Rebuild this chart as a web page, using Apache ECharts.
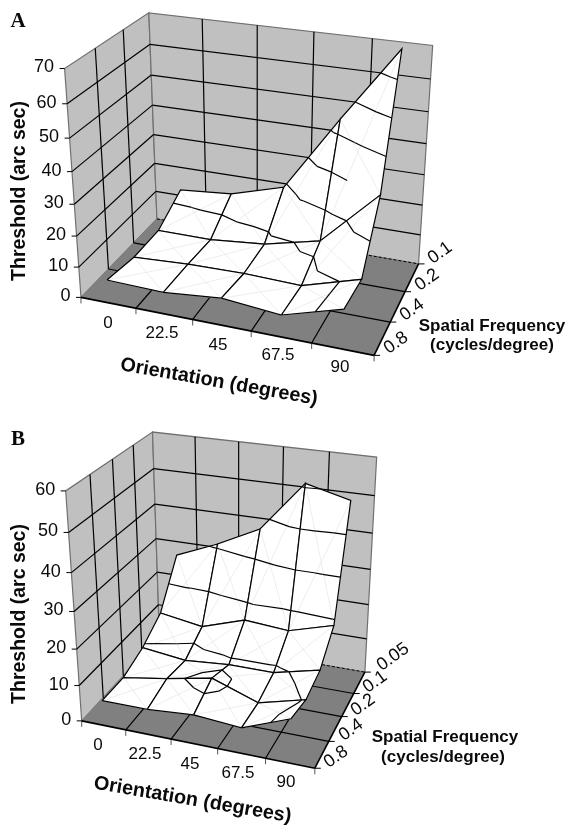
<!DOCTYPE html>
<html>
<head>
<meta charset="utf-8">
<style>html,body{margin:0;padding:0;background:#fff}#c{width:568px;height:825px}</style>
<script src="https://cdn.jsdelivr.net/npm/echarts@6/dist/echarts.min.js"></script>
</head>
<body>
<div id="c"></div>
<script>
var orientationLabels = ['0', '22.5', '45', '67.5', '90'];

var sfLabelsA = ['0.8', '0.4', '0.2', '0.1'];
var zTicksA = [0, 10, 20, 30, 40, 50, 60, 70];
// rows follow sfLabelsA, columns follow orientationLabels
var thresholdA_08 = [7.5, 7, 8.7, 7, 12.5];
var thresholdA_04 = [5.7, 6.7, 7, 6.5, 12];
var thresholdA_02 = [6, 6, 7.7, 12, 30];
var thresholdA_01 = [12, 13.5, 18.7, 44, 68];

var sfLabelsB = ['0.8', '0.4', '0.2', '0.1', '0.05'];
var zTicksB = [0, 10, 20, 30, 40, 50, 60];
var thresholdB_08 = [7, 7, 8, 7, 12];
var thresholdB_04 = [7, 9, 11.5, 7, 10.3];
var thresholdB_02 = [9.5, 8, 9, 9, 12];
var thresholdB_01 = [14, 12, 16, 15, 18.6];
var thresholdB_005 = [26, 31, 37, 51, 48];

var panelA = {
  rows: [thresholdA_08, thresholdA_04, thresholdA_02, thresholdA_01],
  sf: sfLabelsA, zTicks: zTicksA,
  // calibration of the box: [u, v, w, screenX, screenY]
  calib: [
    [0,0,0,81.7,297],[5,0,0,374,354],[0,1,0,158,219],[5,1,0,418,264],
    [0,0,1,65,69],[0,1,1,148,13],[5,1,1,433,45],
    [1,0,0,136.7,308],[2,0,0,193,320],[3,0,0,251.7,332],[4,0,0,311.7,344],
    [5,1/3,0,390,322],[5,2/3,0,405,292],
    [0,0,1/7,77,267],[0,0,2/7,75,235],[0,0,3/7,74,204],[0,0,4/7,72,172],[0,0,5/7,70,138],[0,0,6/7,68,104]
  ],
  uLabelPos: [[108,323],[162,333],[218,345],[278,355],[340,367]],
  sfLabelPos: [[396,343],[412,310],[427,280],[440,253]]
};
var panelB = {
  rows: [thresholdB_08, thresholdB_04, thresholdB_02, thresholdB_01, thresholdB_005],
  sf: sfLabelsB, zTicks: zTicksB,
  calib: [
    [0,0,0,82,720],[5,0,0,315,767],[0,1,0,160,637],[5,1,0,365,672],
    [0,0,1,66,491],[0,1,1,152,432],[5,1,1,377,457],
    [1,0,0,126,731],[2,0,0,171,739],[3,0,0,218,749],[4,0,0,266,760],
    [5,0.25,0,328,741],[5,0.5,0,342,717],[5,0.75,0,353,693],
    [0,0,1/6,78,685],[0,0,2/6,77,648],[0,0,3/6,74,611],[0,0,4/6,71,573],[0,0,5/6,69,533]
  ],
  uLabelPos: [[98,745],[145,754],[190,764],[238,773],[286,782]],
  sfLabelPos: [[336,757],[351,730],[363,705],[375,682],[393,657]]
};

function solveProjection(calib) {
  var n = 11, A = [], i, j, k;
  for (i = 0; i < n; i++) { A.push(new Array(n + 1).fill(0)); }
  function add(r, t) {
    for (i = 0; i < n; i++) {
      for (j = 0; j < n; j++) { A[i][j] += r[i] * r[j]; }
      A[i][n] += r[i] * t;
    }
  }
  calib.forEach(function (c) {
    var u = c[0], v = c[1], w = c[2], X = c[3], Y = c[4];
    add([u, v, w, 1, 0, 0, 0, 0, -X * u, -X * v, -X * w], X);
    add([0, 0, 0, 0, u, v, w, 1, -Y * u, -Y * v, -Y * w], Y);
  });
  for (i = 0; i < n; i++) {
    var p = i;
    for (k = i + 1; k < n; k++) { if (Math.abs(A[k][i]) > Math.abs(A[p][i])) p = k; }
    var tmp = A[i]; A[i] = A[p]; A[p] = tmp;
    for (k = i + 1; k < n; k++) {
      var f = A[k][i] / A[i][i];
      for (j = i; j <= n; j++) { A[k][j] -= f * A[i][j]; }
    }
  }
  var h = new Array(n);
  for (i = n - 1; i >= 0; i--) {
    var s = A[i][n];
    for (j = i + 1; j < n; j++) { s -= A[i][j] * h[j]; }
    h[i] = s / A[i][i];
  }
  return function (u, v, w) {
    var d = h[8] * u + h[9] * v + h[10] * w + 1;
    return [(h[0] * u + h[1] * v + h[2] * w + h[3]) / d, (h[4] * u + h[5] * v + h[6] * w + h[7]) / d];
  };
}

var SANS = '"Liberation Sans", Arial, sans-serif';
var lm = echarts.number.linearMap;
var INK = '#0a0a0a';

function boxSeries(panel) {
  var P = solveProjection(panel.calib);
  var zMax = panel.zTicks[panel.zTicks.length - 1];
  var nV = panel.sf.length;
  function line(a, b, color, lw, dash) {
    return { type: 'polyline', shape: { points: [a, b] },
      style: { stroke: color, lineWidth: lw, fill: null, lineDash: dash || null } };
  }
  function poly(pts, fill, stroke) {
    return { type: 'polygon', shape: { points: pts }, style: { fill: fill, stroke: stroke || null, lineWidth: 1.2 } };
  }
  return {
    type: 'custom', coordinateSystem: 'none', silent: true, clip: false, z: 1,
    data: [[0]],
    renderItem: function () {
      var ch = [];
      ch.push(poly([P(0,0,0),P(0,1,0),P(0,1,1),P(0,0,1)], '#c0c0c0', '#707070'));
      ch.push(poly([P(0,1,0),P(5,1,0),P(5,1,1),P(0,1,1)], '#c0c0c0', '#707070'));
      ch.push(poly([P(0,0,0),P(5,0,0),P(5,1,0),P(0,1,0)], '#808080', null));
      panel.zTicks.forEach(function (z, i) {
        var w = lm(z, [0, zMax], [0, 1]), a = P(0,0,w);
        if (i > 0 && i < panel.zTicks.length - 1) {
          ch.push(line(a, P(0,1,w), '#000', 1.2));
          ch.push(line(P(0,1,w), P(5,1,w), '#000', 1.2));
        }
        ch.push(line([a[0] - 5, a[1]], a, '#000', 1));
        ch.push({ type: 'text', x: a[0] - 10.5, y: a[1] - 1,
          style: { text: String(z), font: '18px ' + SANS, fill: INK, align: 'right', verticalAlign: 'middle' } });
      });
      var k;
      for (k = 1; k < 5; k++) {
        ch.push(line(P(k,1,0), P(k,1,1), '#000', 1.2));
        ch.push(line(P(k,0,0), P(k,1,0), '#000', 1.2));
      }
      for (k = 1; k <= 5; k++) {
        var f = P(k - 1,0,0);
        ch.push(line(f, [f[0], f[1] + 6], '#555', 1));
      }
      var fr = P(5,0,0);
      ch.push(line(fr, [fr[0], fr[1] + 6], '#555', 1));
      panel.sf.forEach(function (s, i) {
        var v = lm(i, [0, nV - 1], [0, 1]), a = P(5,v,0);
        if (i > 0 && i < nV - 1) {
          ch.push(line(P(0,v,0), a, '#000', 1.2));
          ch.push(line(P(0,v,0), P(0,v,1), '#000', 1.2));
        }
        ch.push(line(a, [a[0] + 6, a[1]], '#000', 1));
        ch.push({ type: 'text', x: panel.sfLabelPos[i][0], y: panel.sfLabelPos[i][1], rotation: 0.62,
          style: { text: s, font: '18px ' + SANS, fill: INK, align: 'center', verticalAlign: 'middle' } });
      });
      ch.push(line(P(0,1,0), P(5,1,0), '#000', 1, [3, 2]));
      ch.push(line(P(0,0,0), P(5,0,0), '#000', 1.6));
      ch.push(line(P(5,0,0), P(5,1,0), '#000', 1.6));
      orientationLabels.forEach(function (t, i) {
        ch.push({ type: 'text', x: panel.uLabelPos[i][0], y: panel.uLabelPos[i][1],
          style: { text: t, font: '17px ' + SANS, fill: INK, align: 'center', verticalAlign: 'middle' } });
      });
      return { type: 'group', children: ch };
    }
  };
}

function surfaceSeries(panel) {
  var P = solveProjection(panel.calib);
  var zMax = panel.zTicks[panel.zTicks.length - 1];
  var nV = panel.rows.length, nU = orientationLabels.length;
  var levels = panel.zTicks.slice(1);
  function Q(c, r, z) {
    return P(c + 0.5, lm(r, [0, nV - 1], [0, 1]), lm(z, [0, zMax], [0, 1]));
  }
  var data = [];
  for (var r = nV - 1; r >= 0; r--) {
    for (var c = 0; c < nU; c++) { data.push([c, r, panel.rows[r][c]]); }
  }
  return {
    type: 'custom', coordinateSystem: 'none', silent: true, clip: false, z: 2,
    progressive: 0, data: data,
    renderItem: function (params, api) {
      var c = api.value(0), r = api.value(1);
      if (c >= nU - 1 || r >= nV - 1) { return null; }
      var N = [[c, r, panel.rows[r][c]], [c + 1, r, panel.rows[r][c + 1]],
               [c + 1, r + 1, panel.rows[r + 1][c + 1]], [c, r + 1, panel.rows[r + 1][c]]];
      var mid = [c + 0.5, r + 0.5, (N[0][2] + N[1][2] + N[2][2] + N[3][2]) / 4];
      function S(n) { return Q(n[0], n[1], n[2]); }
      var ch = [];
      ch.push({ type: 'polygon', shape: { points: N.map(S) }, style: { fill: '#fff', stroke: '#fff', lineWidth: 0.5 } });
      ch.push({ type: 'polyline', shape: { points: [S(N[0]), S(N[2])] }, style: { stroke: '#e0e0e0', lineWidth: 0.6, fill: null } });
      ch.push({ type: 'polyline', shape: { points: [S(N[1]), S(N[3])] }, style: { stroke: '#e0e0e0', lineWidth: 0.6, fill: null } });
      // height lines through the four triangles of the cell
      levels.forEach(function (L) {
        for (var i = 0; i < 4; i++) {
          var tri = [N[i], N[(i + 1) % 4], mid], hits = [];
          for (var e = 0; e < 3; e++) {
            var a = tri[e], b = tri[(e + 1) % 3];
            if ((a[2] - L) * (b[2] - L) < 0) {
              var t = (L - a[2]) / (b[2] - a[2]);
              hits.push(Q(a[0] + t * (b[0] - a[0]), a[1] + t * (b[1] - a[1]), L));
            }
          }
          if (hits.length === 2) {
            ch.push({ type: 'polyline', shape: { points: hits }, style: { stroke: '#000', lineWidth: 1.2, fill: null } });
          }
        }
      });
      ch.push({ type: 'polyline', shape: { points: N.map(S).concat([S(N[0])]) }, style: { stroke: '#000', lineWidth: 1.2, fill: null } });
      return { type: 'group', children: ch };
    }
  };
}

function label(text, x, y, size, rot, family, weight) {
  return { type: 'text', x: x, y: y, rotation: rot || 0, silent: true,
    style: { text: text, font: (weight || 'bold') + ' ' + size + 'px ' + (family || SANS), fill: INK,
      align: 'center', verticalAlign: 'middle' } };
}

var chart = echarts.init(document.getElementById('c'), null, { renderer: 'canvas' });
chart.setOption({
  animation: false,
  backgroundColor: '#fff',
  series: [boxSeries(panelA), surfaceSeries(panelA), boxSeries(panelB), surfaceSeries(panelB)],
  graphic: [
    label('A', 18, 22, 21, 0, '"Liberation Serif", serif'),
    label('B', 18, 440, 21, 0, '"Liberation Serif", serif'),
    label('Threshold (arc sec)', 20, 191, 19.5, Math.PI / 2),
    label('Threshold (arc sec)', 20, 614, 19.5, Math.PI / 2),
    label('Orientation (degrees)', 219, 382, 19.8, -0.175),
    label('Orientation (degrees)', 192.5, 800, 19.8, -0.17),
    label('Spatial Frequency', 492, 326, 17),
    label('(cycles/degree)', 492, 345, 17),
    label('Spatial Frequency', 445, 737, 17),
    label('(cycles/degree)', 443, 757, 17)
  ]
});
</script>
</body>
</html>
